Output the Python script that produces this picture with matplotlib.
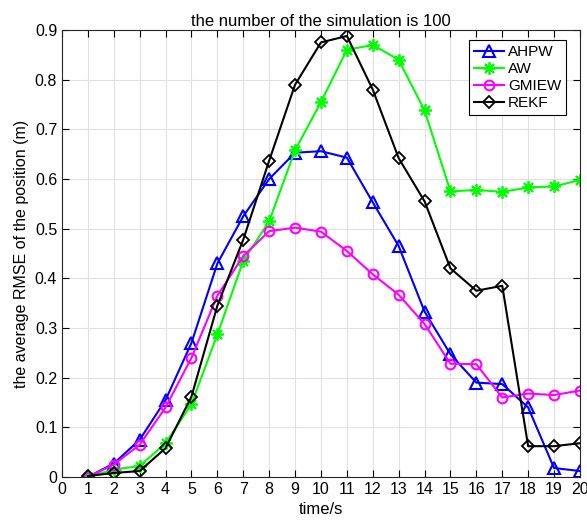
import matplotlib
matplotlib.use("Agg")
import matplotlib.pyplot as plt
import numpy as np

plt.rcParams['font.family'] = ['Liberation Sans', 'DejaVu Sans']

t = list(range(1, 21))
ahpw = [0.0, 0.027, 0.075, 0.155, 0.27, 0.43, 0.525, 0.60, 0.653, 0.656,
        0.643, 0.553, 0.465, 0.333, 0.247, 0.19, 0.187, 0.14, 0.018, 0.012]
aw = [0.0, 0.015, 0.022, 0.068, 0.147, 0.287, 0.435, 0.515, 0.658, 0.755,
      0.86, 0.87, 0.84, 0.738, 0.575, 0.578, 0.574, 0.583, 0.585, 0.598]
gmiew = [0.0, 0.025, 0.065, 0.14, 0.24, 0.365, 0.445, 0.495, 0.502, 0.494,
         0.455, 0.408, 0.367, 0.308, 0.228, 0.227, 0.16, 0.168, 0.165, 0.174]
rekf = [0.002, 0.008, 0.012, 0.058, 0.162, 0.345, 0.478, 0.637, 0.79, 0.875,
        0.888, 0.78, 0.642, 0.555, 0.42, 0.375, 0.385, 0.062, 0.062, 0.068]
xticks = list(range(0, 21))
yticks = [0, 0.1, 0.2, 0.3, 0.4, 0.5, 0.6, 0.7, 0.8, 0.9]

fig = plt.figure(figsize=(5.87, 5.23), dpi=100)
ax = fig.add_axes([0.1056, 0.088, 0.8824, 0.8546])

lw = 1.5
ax.plot(t, ahpw, color='#0000ff', marker='^', markersize=8, markerfacecolor='none',
        markeredgewidth=1.5, linewidth=lw, label='AHPW')
ax.plot(t, aw, color='#00ff00', marker=(8, 2, 0), markersize=9, markerfacecolor='#00ff00',
        markeredgewidth=1.3, linewidth=lw, label='AW')
ax.plot(t, gmiew, color='#ff00ff', marker='o', markersize=7, markerfacecolor='none',
        markeredgewidth=1.5, linewidth=lw, label='GMIEW')
ax.plot(t, rekf, color='black', marker='D', markersize=6, markerfacecolor='none',
        markeredgewidth=1.3, linewidth=lw, label='REKF')

ax.set_xlim(0, 20)
ax.set_ylim(0, 0.9)
ax.set_xticks(xticks)
ax.set_yticks(yticks)
ax.set_yticklabels(['0'] + [f'{v:.1f}' for v in yticks[1:]])
ax.tick_params(direction='in', top=True, right=True, labelsize=11.5, length=5, width=0.8)
ax.grid(True, color='#e0e0e0', linewidth=0.8)
ax.set_axisbelow(True)
for s in ax.spines.values():
    s.set_linewidth(0.8)
    s.set_color('#262626')

ax.set_xlabel('time/s', fontsize=12)
ax.set_ylabel('the average RMSE of the position (m)', fontsize=11.5)
ax.set_title('the number of the simulation is 100', fontsize=12, pad=3)

leg = ax.legend(loc='upper right', bbox_to_anchor=(0.973, 0.977), fontsize=11, fancybox=False,
                framealpha=1, edgecolor='black', borderpad=0.3, labelspacing=0.2,
                handlelength=2.0, handletextpad=0.25, borderaxespad=0)
leg.get_frame().set_linewidth(0.8)

fig.savefig('out.png', dpi=100)
